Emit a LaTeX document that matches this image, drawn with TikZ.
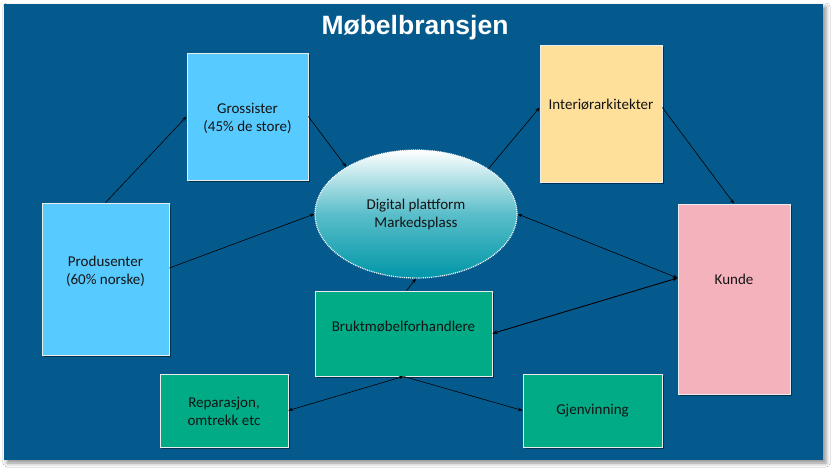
\documentclass[tikz,border=0pt]{standalone}
\usepackage{fontspec}
\setmainfont{Carlito}
\newfontfamily\titlefont{Liberation Sans}
\usetikzlibrary{shapes.geometric,shadows,shadows.blur,arrows.meta,calc}
\definecolor{bgblue}{RGB}{4,90,141}
\definecolor{lblue}{RGB}{87,203,255}
\definecolor{lyellow}{RGB}{255,224,155}
\definecolor{lpink}{RGB}{244,178,188}
\definecolor{lgreen}{RGB}{0,171,134}
\definecolor{teal1}{RGB}{0,150,168}
\definecolor{teal2}{RGB}{90,190,202}
\definecolor{txt}{RGB}{20,20,20}
\tikzset{
  box/.style={rectangle, draw=white!85!gray, line width=0.8pt, inner sep=0pt,
    drop shadow={shadow xshift=1.8pt, shadow yshift=-1.8pt, opacity=0.45, fill=black}},
  lbl/.style={text=txt, align=center, font=\fontsize{15}{18}\selectfont, inner sep=0pt},
  conn/.style={draw=black, line width=0.6pt, -{Stealth[length=4.5pt,width=3.5pt]}},
  bconn/.style={draw=black, line width=0.6pt, {Stealth[length=4.5pt,width=3.5pt]}-{Stealth[length=4.5pt,width=3.5pt]}},
  thick bconn/.style={draw=black, line width=0.9pt, {Stealth[length=5pt,width=4pt]}-{Stealth[length=5pt,width=4pt]}},
}
\begin{document}
\begin{tikzpicture}[x=1pt,y=-1pt]
\useasboundingbox (0,0) rectangle (834,471);
\fill[white] (0,0) rectangle (834,471);
\fill[bgblue, blur shadow={shadow xshift=3pt, shadow yshift=-3pt, shadow blur radius=4pt, shadow opacity=45}] (4,4) rectangle (823,460);
\node[text=white, font=\titlefont\bfseries\fontsize{26.5}{30}\selectfont, inner sep=0pt] (title) at (415,28) {Møbelbransjen};

\node[box, fill=lblue, minimum width=121pt, minimum height=127pt] (gros) at (247.5,116.5) {};
\node[box, fill=lblue, minimum width=127pt, minimum height=152pt] (prod) at (105.5,279) {};
\node[box, fill=lyellow, minimum width=122pt, minimum height=137pt] (inter) at (601,113.5) {};
\node[box, fill=lpink, minimum width=112pt, minimum height=190pt] (kunde) at (734,299) {};
\node[box, fill=lgreen, minimum width=177pt, minimum height=85pt] (brukt) at (403.5,333.5) {};
\node[box, fill=lgreen, minimum width=128pt, minimum height=73pt] (rep) at (224,410.5) {};
\node[box, fill=lgreen, minimum width=139pt, minimum height=73pt] (gjen) at (592.5,410.5) {};
\node[ellipse, minimum width=202pt, minimum height=128pt, inner sep=0pt,
  top color=white, bottom color=teal1, middle color=teal2,
  draw=white, line width=1.2pt, dash pattern=on 1pt off 0.9pt] (ell) at (416,214) {};

\node[lbl] (grosT) at (247.5,118.5) {Grossister\\(45\% de store)};
\node[lbl] (prodT) at (105.5,271) {Produsenter\\(60\% norske)};
\node[lbl] (ellT) at (416,214) {Digital plattform\\Markedsplass};
\node[lbl] (interT) at (601,105) {Interiørarkitekter};
\node[lbl] (kundeT) at (734,279) {Kunde};
\node[lbl] (bruktT) at (403.5,327) {Bruktmøbelforhandlere};
\node[lbl] (repT) at (224,411) {Reparasjon,\\omtrekk etc};
\node[lbl] (gjenT) at (592.5,411) {Gjenvinning};

\draw[conn] (prod.north) -- (gros.west);
\draw[conn] (gros.east) -- (ell.146);
\draw[conn] ($(prod.east)+(0,-11)$) -- (ell.west);
\draw[conn] (ell.32) -- ($(inter.west)+(0,-6)$);
\draw[conn] ($(inter.east)+(0,-6)$) -- (kunde.north);
\draw[bconn] ($(kunde.west)+(0,-21)$) -- (ell.east);
\draw[thick bconn] ($(kunde.west)+(0,-21)$) -- (brukt.east);
\draw[conn] ($(brukt.north)+(3,0)$) -- (ell.south);
\draw[bconn] (brukt.south) -- (rep.east);
\draw[conn] (brukt.south) -- (gjen.west);
\end{tikzpicture}
\end{document}
